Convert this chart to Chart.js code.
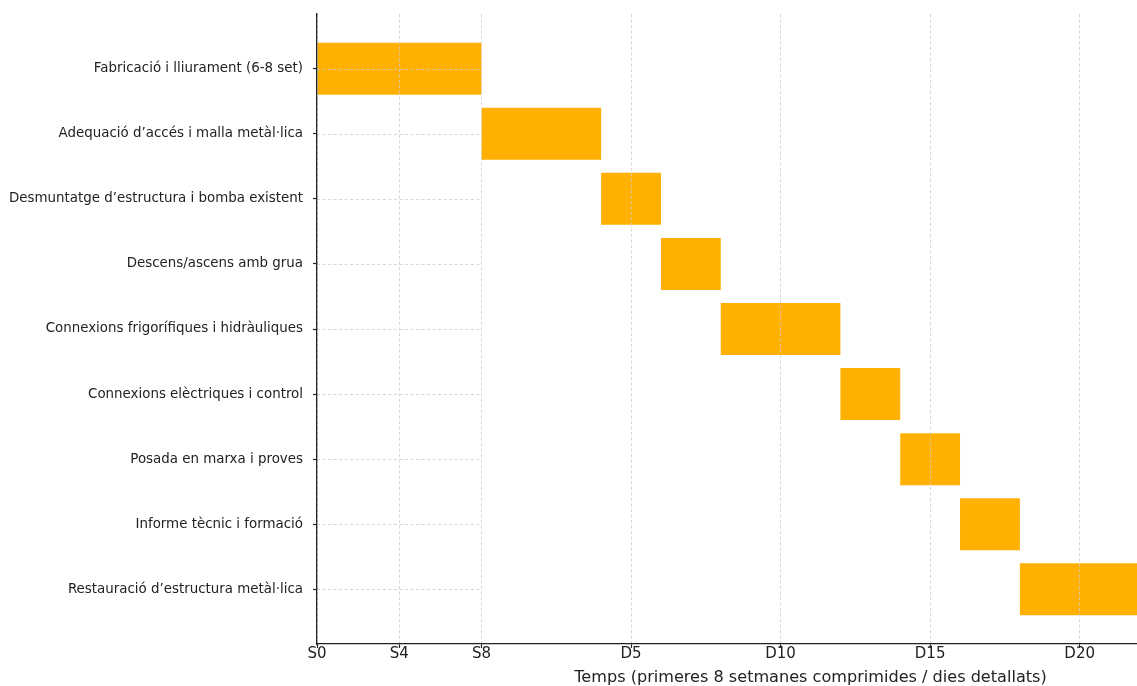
<!DOCTYPE html>
<html>
<head>
<meta charset="utf-8">
<script src="https://cdn.jsdelivr.net/npm/chart.js@4/dist/chart.umd.min.js"></script>
<style>
  html, body { margin: 0; padding: 0; overflow: hidden; background: #fff; }
  #wrap { width: 1304px; height: 686px; }
</style>
</head>
<body>
<div id="wrap"><canvas id="gantt"></canvas></div>
<script>
// tasques (de dalt a baix)
const taskLabels = [
    'Fabricació i lliurament (6-8 set)',
    'Adequació d’accés i malla metàl·lica',
    'Desmuntatge d’estructura i bomba existent',
    'Descens/ascens amb grua',
    'Connexions frigorífiques i hidràuliques',
    'Connexions elèctriques i control',
    'Posada en marxa i proves',
    'Informe tècnic i formació',
    'Restauració d’estructura metàl·lica'
];

// eix de temps: S8 = 5.5, després 1 unitat = 1 dia (D0 = 5.5)
const taskStart = [0, 5.5, 9.5, 11.5, 13.5, 17.5, 19.5, 21.5, 23.5];
const taskEnd   = [5.5, 9.5, 11.5, 13.5, 17.5, 19.5, 21.5, 23.5, 31.5];

const tickValues = [0, 2.75, 5.5, 10.5, 15.5, 20.5, 25.5];
const tickLabels = ['S0', 'S4', 'S8', 'D5', 'D10', 'D15', 'D20'];
const weeksEnd = 5.5;

const FONT = 'DejaVu Sans';

// línies horitzontals de graella només a la zona de setmanes
const weekGrid = {
    id: 'weekGrid',
    afterDatasetsDraw(chart) {
        const {ctx, scales: {x, y}} = chart;
        ctx.save();
        ctx.strokeStyle = '#cccccc';
        ctx.lineWidth = 0.8;
        ctx.setLineDash([3, 2.5]);
        taskLabels.forEach((t, i) => {
            const py = Math.round(y.getPixelForValue(i)) + 0.5;
            ctx.beginPath();
            ctx.moveTo(x.getPixelForValue(0), py);
            ctx.lineTo(x.getPixelForValue(weeksEnd), py);
            ctx.stroke();
        });
        ctx.restore();
    }
};

const ctx = document.getElementById('gantt').getContext('2d');
new Chart(ctx, {
    type: 'bar',
    data: {
        datasets: [{
            data: taskLabels.map((t, i) => ({ x: [taskStart[i], taskEnd[i]], y: i })),
            backgroundColor: '#ffb000',
            borderWidth: 0,
            barPercentage: 0.8,
            categoryPercentage: 1.0
        }]
    },
    plugins: [weekGrid],
    options: {
        indexAxis: 'y',
        responsive: true,
        maintainAspectRatio: false,
        animation: false,
        layout: { padding: { top: 14, left: 0, right: 0, bottom: 0 } },
        plugins: {
            legend: { display: false },
            tooltip: { enabled: false }
        },
        scales: {
            x: {
                type: 'linear',
                position: 'bottom',
                min: 0,
                max: 33,
                offset: false,
                afterBuildTicks: (scale) => {
                    scale.ticks = tickValues.map(v => ({ value: v }));
                },
                afterFit: (scale) => {
                    scale.height = 42;
                    scale.paddingLeft = 0;
                    scale.paddingRight = 0;
                },
                ticks: {
                    autoSkip: false,
                    maxRotation: 0,
                    padding: -1,
                    color: '#222',
                    font: { family: FONT, size: 15, lineHeight: 1 },
                    callback: (v, i) => tickLabels[i]
                },
                grid: {
                    display: true,
                    drawOnChartArea: true,
                    offset: false,
                    color: '#cccccc',
                    lineWidth: 0.8,
                    tickLength: 4,
                    tickColor: '#222',
                    tickWidth: 1.2,
                    tickBorderDash: [],
                    z: 1
                },
                border: { display: true, color: '#222', width: 1.3, dash: [3, 2.5], z: 2 },
                title: {
                    display: true,
                    text: 'Temps (primeres 8 setmanes comprimides / dies detallats)',
                    color: '#222',
                    font: { family: FONT, size: 16.1, lineHeight: 1 },
                    padding: { top: 0, bottom: 0 }
                }
            },
            y: {
                type: 'linear',
                reverse: true,
                min: -0.84,
                max: 8.84,
                offset: false,
                afterBuildTicks: (scale) => {
                    scale.ticks = taskLabels.map((t, i) => ({ value: i }));
                },
                afterFit: (scale) => {
                    scale.width = 317;
                    scale.paddingTop = 0;
                    scale.paddingBottom = 0;
                },
                ticks: {
                    autoSkip: false,
                    padding: 10,
                    color: '#222',
                    font: { family: FONT, size: 13.4 },
                    callback: (v) => taskLabels[v]
                },
                grid: {
                    display: true,
                    offset: false,
                    drawOnChartArea: false,
                    tickLength: 4,
                    tickColor: '#222',
                    tickWidth: 1.2
                },
                border: { display: true, color: '#222', width: 1.3, z: 2 }
            }
        }
    }
});
</script>
</body>
</html>
